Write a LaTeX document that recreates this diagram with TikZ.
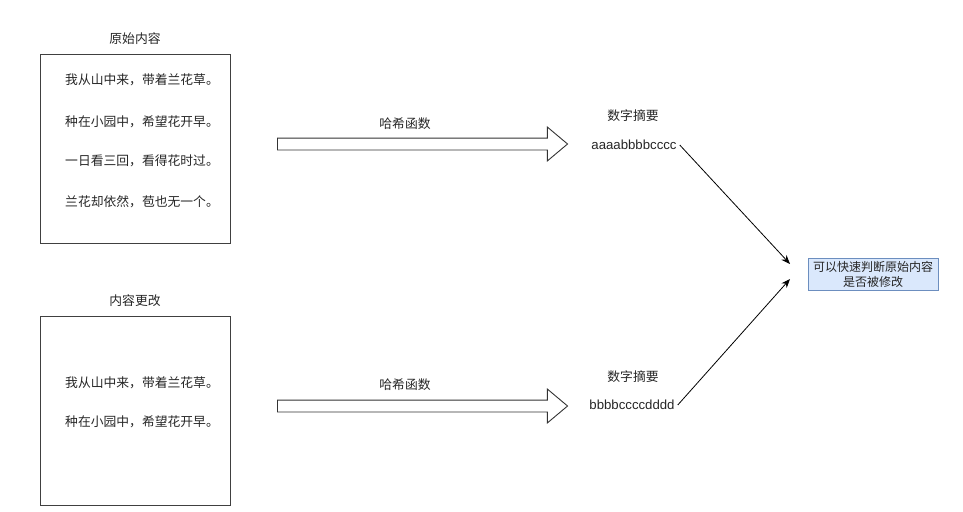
\documentclass[tikz,border=0pt]{standalone}
\usepackage{fontspec}
\setmainfont{Liberation Sans}
\newfontfamily\cjk{Noto Sans CJK SC}
\usepackage{tikz}
\usetikzlibrary{shapes.arrows, arrows.meta, positioning}
\definecolor{resfill}{HTML}{DAE8FC}
\definecolor{resline}{HTML}{6C8EBF}

\begin{document}
\begin{tikzpicture}[
        x=1pt, y=-1pt,
        every node/.style={font=\cjk\fontsize{12.8}{15}\selectfont, text=black!85, inner sep=0pt},
        textbox/.style={draw=black!75, line width=0.9pt, minimum width=190, minimum height=189},
        hasharrow/.style={draw=black!80, line width=0.9pt, single arrow, minimum height=290, minimum width=33,
            single arrow head extend=11pt, single arrow tip angle=80, inner sep=5.5pt},
        digest/.style={font=\fontsize{13.2}{15}\selectfont},
        result/.style={draw=resline, fill=resfill, line width=0.7pt, minimum width=130,
            minimum height=32, align=center, font=\cjk\fontsize{12}{15}\selectfont},
        arr/.style={-{Stealth[length=9pt, width=7pt]}, line width=0.8pt}
        ]
        \useasboundingbox (0,0) rectangle (963,511);
        % original content
        \node[textbox] (A) at (135,148.5) {};
        \node (A0) at (135,39) {原始内容};
        \node (A1) at (142,80) {我从山中来，带着兰花草。};
        \node (A2) at (142,122) {种在小园中，希望花开早。};
        \node (A3) at (142,161) {一日看三回，看得花时过。};
        \node (A4) at (142,202) {兰花却依然，苞也无一个。};
        % changed content
        \node[textbox] (B) at (135,410.5) {};
        \node (B0) at (135,301) {内容更改};
        \node (B1) at (142,383) {我从山中来，带着兰花草。};
        \node (B2) at (142,422) {种在小园中，希望花开早。};
        % hash functions
        \node[hasharrow] (H1) at (419,144) {};
        \node (H1t) at (405,124) {哈希函数};
        \node[hasharrow] (H2) at (419,406) {};
        \node (H2t) at (405,385) {哈希函数};
        % digests
        \node (D1t) at (633,116) {数字摘要};
        \node[digest] (D1) at (634,145) {aaaabbbbcccc};
        \node (D2t) at (633,377) {数字摘要};
        \node[digest] (D2) at (632,405) {bbbbccccdddd};
        % result
        \node[result] (R) at (873,274) {可以快速判断原始内容\\是否被修改};
        \coordinate (R1) at (790,264);
        \coordinate (R2) at (790,279);
        \draw[arr] (D1.east) ++(3,0) -- (R1);
        \draw[arr] (D2.east) ++(3,0) -- (R2);
    \end{tikzpicture}
\end{document}
